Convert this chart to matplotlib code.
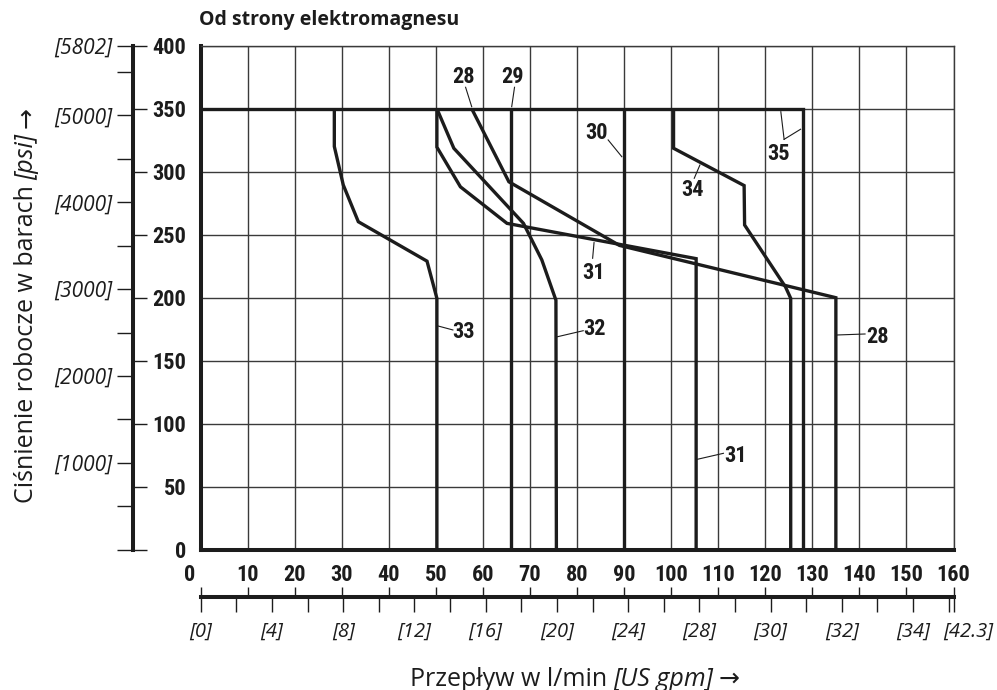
import matplotlib
matplotlib.use('Agg')
import matplotlib.pyplot as plt
from matplotlib import font_manager as fm

plt.rcParams['font.family'] = ['Open Sans', 'DejaVu Sans']

INK = '#1c1c1c'
GRID = '#3a3a3a'

BAR_PER_PSI = 1 / 14.5038
LPM_PER_GPM = 3.785411784

# axis values
flow_ticks = list(range(0, 161, 10))
bar_ticks = list(range(0, 401, 50))
psi_ticks = list(range(0, 5501, 500))
psi_labeled = [1000, 2000, 3000, 4000, 5000, 5802]
gpm_ticks = list(range(0, 43, 2)) + [42.27]
gpm_labeled = [0, 4, 8, 12, 16, 20, 24, 28, 32, 36, 40]
gpm_texts = ['[0]', '[4]', '[8]', '[12]', '[16]', '[20]', '[24]', '[28]',
             '[30]', '[32]', '[34]']

# curves: flow l/min, pressure bar
c28_q = [57.6, 65.5, 89.0, 135.0, 135.0]
c28_p = [350, 292, 241.5, 200, 0]
c29_q = [66.0, 66.0]
c29_p = [350, 0]
c30_q = [89.9, 89.9]
c30_p = [350, 0]
c31_q = [50.2, 50.2, 55.2, 65.1, 105.3, 105.3]
c31_p = [350, 319.5, 288, 259, 231, 0]
c32_q = [50.2, 53.8, 68.6, 72.5, 75.5, 75.6]
c32_p = [350, 318.6, 259, 230, 198, 0]
c33_q = [28.4, 28.4, 30.3, 33.5, 48.1, 50.2, 50.2]
c33_p = [350, 320, 289.5, 260.3, 229, 199.5, 0]
c34_q = [100.5, 100.5, 115.5, 115.6, 124.3, 125.4, 125.4]
c34_p = [350, 318.6, 289, 257.7, 208.5, 199.5, 0]
c35_q = [0, 128.1, 128.1]
c35_p = [350, 350, 0]


def pick_narrow():
    names = {f.name for f in fm.fontManager.ttflist}
    for n in ['Liberation Sans Narrow', 'Roboto Condensed', 'Arial Narrow',
              'Nimbus Sans Narrow', 'Open Sans Condensed']:
        if n in names:
            return dict(family=n, fontstretch='normal'), 16
    for f in fm.fontManager.ttflist:
        if f.name == 'DejaVu Sans' and 'Condensed' in f.fname:
            return dict(family='DejaVu Sans', fontstretch='condensed'), 15
    return dict(family='Liberation Sans', fontstretch='normal'), 14


NARROW, NSIZE = pick_narrow()

W, H = 997, 690


def fx(px):
    return px / W


def fy(py):
    return 1 - py / H


fig = plt.figure(figsize=(W / 100, H / 100), dpi=100)

# main chart
L, R, T, B = 200.7, 953.5, 45.7, 549.7
ax = fig.add_axes([fx(L), fy(B), fx(R) - fx(L), fy(T) - fy(B)])
ax.set_xlim(0, 160)
ax.set_ylim(0, 400)
ax.set_xticks(flow_ticks, labels=[''] + [str(v) for v in flow_ticks[1:]])
ax.set_yticks(bar_ticks, labels=[str(v) for v in bar_ticks])
ax.grid(True, color=GRID, lw=1.0)
ax.set_axisbelow(True)
for s in ['left', 'bottom']:
    ax.spines[s].set_linewidth(2.9)
    ax.spines[s].set_color(INK)
for s in ['top', 'right']:
    ax.spines[s].set_linewidth(1.0)
    ax.spines[s].set_color(GRID)
ax.tick_params(axis='x', length=0, pad=10.5, labelsize=NSIZE, labelcolor=INK)
ax.tick_params(axis='y', length=0, pad=10.5, labelsize=NSIZE, labelcolor=INK)
for lbl in ax.get_xticklabels() + ax.get_yticklabels():
    lbl.set_fontfamily(NARROW['family'])
    lbl.set_fontstretch(NARROW['fontstretch'])
    lbl.set_fontweight('bold')
ax.annotate('0', xy=(0, 0), xycoords=('data', 'axes fraction'),
            xytext=(-10.7, -14.6), textcoords='offset pixels', ha='center',
            va='top', fontsize=NSIZE, fontweight='bold', color=INK, **NARROW)

for q, p in [(c28_q, c28_p), (c29_q, c29_p), (c30_q, c30_p), (c31_q, c31_p),
             (c32_q, c32_p), (c33_q, c33_p), (c34_q, c34_p), (c35_q, c35_p)]:
    ax.plot(q, p, color=INK, lw=2.4, solid_joinstyle='miter',
            solid_capstyle='butt', zorder=3)


def tag(text, xy, leaders):
    ax.text(xy[0], xy[1], text, ha='center', va='center', fontsize=NSIZE,
            fontweight='bold', color=INK, zorder=4, **NARROW)
    for (x0, y0), (x1, y1) in leaders:
        ax.plot([x0, x1], [y0, y1], color=INK, lw=0.8, zorder=4)


tag('28', (55.8, 375.4), [((56.3, 367), (57.6, 351.6))])
tag('29', (66.3, 375.4), [((66.7, 367), (66.1, 351.6))])
tag('30', (84.2, 330.5), [((86.6, 325.2), (89.5, 311.9))])
tag('31', (83.4, 219.4), [((83.3, 231.3), (83.6, 243.7))])
tag('33', (55.8, 173.0), [((50.5, 177.5), (53.6, 174.4))])
tag('32', (83.8, 174.9), [((75.8, 169.0), (81.3, 173.8))])
tag('34', (104.5, 285.5), [((104.9, 294.8), (106.1, 305.3))])
tag('35', (122.8, 314.0), [((124.0, 325.7), (123.3, 347.6)),
                           ((124.0, 325.7), (127.5, 333.7))])
tag('28', (143.9, 168.6), [((135.2, 170.4), (141.2, 171.2))])
tag('31', (113.6, 74.4), [((105.5, 71.7), (111.1, 76.5))])

# pressure scale (psi left, bar ticks right)
axp = fig.add_axes([fx(133.3), fy(B), 0.0001, fy(T) - fy(B)])
axp.set_ylim(0, 400)
axp.set_xticks([])
for s in ['top', 'right', 'bottom']:
    axp.spines[s].set_visible(False)
axp.spines['left'].set_linewidth(2.9)
axp.spines['left'].set_color(INK)
axp.set_yticks([v * BAR_PER_PSI for v in psi_labeled],
               labels=['[%d]' % v for v in psi_labeled])
axp.set_yticks([v * BAR_PER_PSI for v in psi_ticks], minor=True)
axp.tick_params(axis='y', which='both', direction='out', length=11.5,
                width=1.0, color=INK, pad=3.5, labelsize=15, labelcolor=INK)
for lbl in axp.get_yticklabels():
    lbl.set_fontstyle('italic')
axb = axp.twinx()
axb.set_ylim(0, 400)
axb.set_yticks(bar_ticks)
axb.tick_params(axis='y', direction='out', length=10, width=1.0, color=INK,
                labelright=False)
for s in axb.spines.values():
    s.set_visible(False)

# flow scale (US gpm below, l/min ticks above)
G = 596.7
axg = fig.add_axes([fx(L), fy(G), fx(R) - fx(L), 0.0001])
axg.set_xlim(0, 160)
axg.set_yticks([])
for s in ['top', 'right', 'left']:
    axg.spines[s].set_visible(False)
axg.spines['bottom'].set_linewidth(2.9)
axg.spines['bottom'].set_color(INK)
gpm_names = dict(zip(gpm_labeled, gpm_texts))
axg.set_xticks([g * LPM_PER_GPM for g in gpm_ticks],
               labels=[gpm_names.get(g, '') for g in gpm_ticks])
axg.tick_params(axis='x', direction='out', length=10.8, width=1.0, color=INK,
                pad=7, labelsize=14.5, labelcolor=INK)
for lbl in axg.get_xticklabels():
    lbl.set_fontstyle('italic')
axg.annotate('[42.3]', xy=(42.27 * LPM_PER_GPM, 0),
             xycoords=('data', 'axes fraction'), xytext=(15, -25),
             textcoords='offset pixels', ha='center', va='top', fontsize=14.5,
             fontstyle='italic', color=INK)
axt = axg.twiny()
axt.set_xlim(0, 160)
axt.set_xticks(flow_ticks)
axt.tick_params(axis='x', direction='out', length=7.2, width=1.0, color=INK,
                labeltop=False)
for s in axt.spines.values():
    s.set_visible(False)

fig.text(fx(199), fy(20), 'Od strony elektromagnesu', ha='left', va='center',
         fontsize=14, fontweight='bold', color=INK)


def chain(pieces, along, cross, vertical=False, gap=6):
    # lay text pieces end to end, centred on 'along', baseline at 'cross'
    r = fig.canvas.get_renderer()
    rot = 90 if vertical else 0
    made = []
    for s, style in pieces:
        t = fig.text(0, 0, s, rotation=rot, rotation_mode='anchor', ha='left',
                     va='baseline', fontsize=18, fontstyle=style, color=INK,
                     transform=None)
        bb = t.get_window_extent(r)
        made.append((t, bb.height if vertical else bb.width))
    total = sum(n for _, n in made) + gap * (len(made) - 1)
    pos = along - total / 2
    for t, n in made:
        if vertical:
            t.set_position((cross, pos))
        else:
            t.set_position((pos, cross))
        pos += n + gap


chain([('Przepływ w l/min', 'normal'), ('[US gpm]', 'italic'),
       ('→', 'normal')], 575, H - 685.5)
chain([('Ciśnienie robocze w barach', 'normal'), ('[psi]', 'italic'),
       ('→', 'normal')], H - 305, 33, vertical=True)

fig.savefig('out.png', dpi=100)
